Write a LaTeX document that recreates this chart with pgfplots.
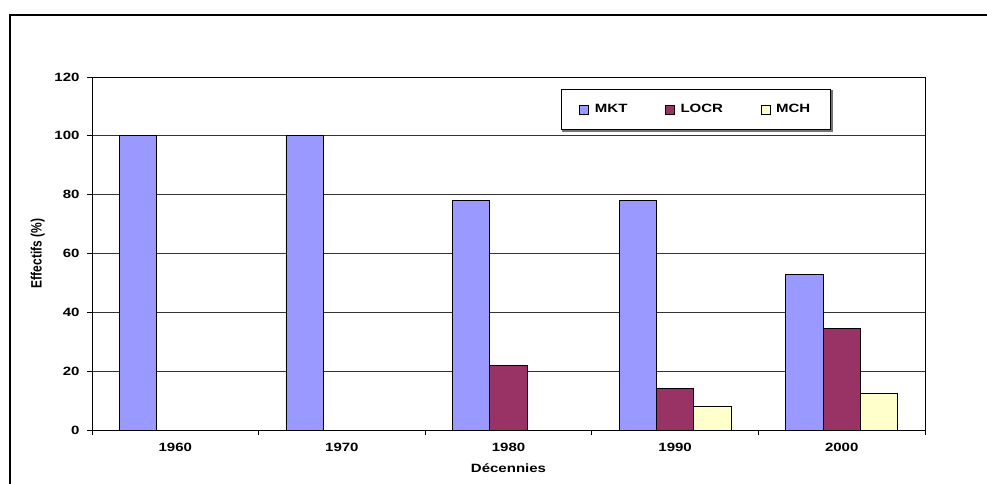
\documentclass[border=0pt]{standalone}
\usepackage{pgfplots}
\pgfplotsset{compat=1.18}
\usepackage{fontspec}
\setmainfont{Liberation Sans}
\definecolor{mkt}{HTML}{9999FF}
\definecolor{locr}{HTML}{993366}
\definecolor{mch}{HTML}{FFFFCC}
\newcommand{\hs}[1]{\scalebox{1.25}[1]{\fontsize{12bp}{14bp}\selectfont\bfseries #1}}
\newcommand{\vs}[1]{\scalebox{1}[1.25]{\fontsize{12bp}{14bp}\selectfont\bfseries #1}}
\begin{document}
\begin{tikzpicture}
\useasboundingbox (0,0) rectangle (987bp,484bp);
\begin{axis}[
  at={(92bp,54bp)}, anchor=south west,
  scale only axis, width=833bp, height=353bp,
  xmin=-0.5, xmax=4.5, ymin=0, ymax=120,
  ytick={0,20,...,120},
  xtick={0,1,2,3,4},
  xticklabels={\hs{1960},\hs{1970},\hs{1980},\hs{1990},\hs{2000}},
  minor xtick={-0.5,0.5,1.5,2.5,3.5,4.5},
  yticklabel={\hs{\pgfmathprintnumber[assume math mode=true]{\tick}}},
  xtick pos=bottom, ytick pos=left,
  tick align=outside,
  major tick length=5bp, minor tick length=5bp,
  major x tick style={draw=none},
  tick style={black, line width=0.8bp},
  axis line style={black, line width=0.9bp},
  ymajorgrids, major grid style={black!80, line width=0.8bp},
  xticklabel style={anchor=center, yshift=-12bp},
  yticklabel style={anchor=east, xshift=-4bp},
  xlabel={\hs{Décennies}},
  ylabel={\vs{Effectifs (\%)}},
  xlabel style={at={(axis description cs:0.5,-0.1068)}, anchor=center},
  ylabel style={at={(axis description cs:-0.0652,0.5)}, anchor=center},
  ybar=0pt, bar width=37.3bp,
  every axis plot/.append style={draw=black, line width=0.8bp},
  legend columns=3,
  legend image code/.code={\draw[#1, line width=0.6bp] (0bp,-4.5bp) rectangle (9bp,4.5bp);},
  legend style={name=leg, at={(axis description cs:0.5630,0.9655)}, anchor=north west,
    draw=black, line width=0.8bp, fill=white,
    inner xsep=18bp, inner ysep=15bp,
    nodes={inner xsep=2bp, inner ysep=0bp},
    /tikz/every even column/.append style={column sep=35.5bp}},
  legend cell align=left,
]
\addplot[fill=mkt] coordinates {(0,100) (1,100) (2,78) (3,78) (4,53)};
\addplot[fill=locr] coordinates {(2,22) (3,14) (4,34.5)};
\addplot[fill=mch] coordinates {(3,8) (4,12.5)};
\legend{\hspace*{4bp}\hs{MKT},\hspace*{4bp}\hs{LOCR},\hspace*{4bp}\hs{MCH}}
\end{axis}
\draw[black!55, line width=1.6bp] ([xshift=1.2bp,yshift=-1bp]leg.north east) -- ([xshift=1.2bp,yshift=-1.2bp]leg.south east) -- ([xshift=1bp,yshift=-1.2bp]leg.south west);
\draw[line width=2bp] (10.3bp,-5bp) -- (10.3bp,469bp) -- (995bp,469bp);
\end{tikzpicture}
\end{document}
